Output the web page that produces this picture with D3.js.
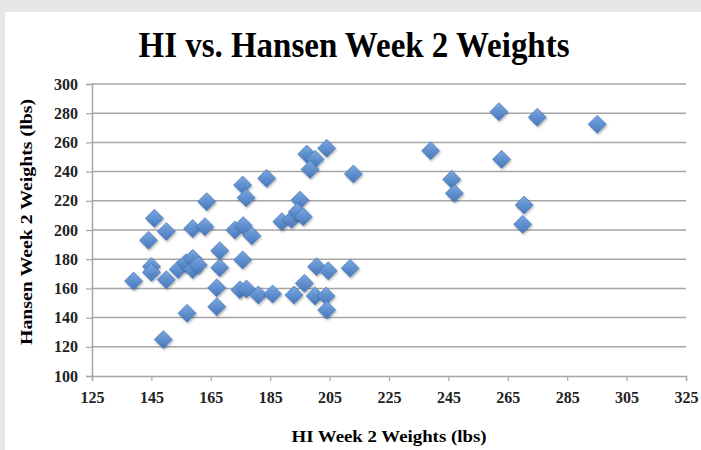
<!DOCTYPE html>
<html>
<head>
<meta charset="utf-8">
<script src="https://cdn.jsdelivr.net/npm/d3@7"></script>
<style>
  html, body { margin: 0; padding: 0; background: #e6e7e9; }
  body { padding: 12px 0 0 5px; width: 696px; height: 438px; }
  #chart { width: 696px; height: 438px; background: #fff; }
  svg { display: block; }
</style>
</head>
<body>
<div id="chart"></div>
<script>
// HI vs. Hansen week 2 weights (lbs)
const hiWeights = [
  139, 144, 146, 145, 145, 150, 150, 149, 154, 157,
  156.6, 158.9, 158.9, 160.8, 158.9, 163, 163.6, 168, 168, 167,
  167, 173.1, 175.9, 178.8, 175.7, 176.9, 183.8, 175.7, 174.8, 177,
  181, 185.8, 188.9, 192.2, 195, 194.1, 196.1, 193, 196.5, 197.3,
  200.1, 198.4, 204, 213, 200.6, 204.5, 211.9, 200.1, 203.8, 204,
  262, 274.9, 295.1, 239, 262.9, 246.1, 247, 270.5, 270
];
const hansenWeights = [
  165, 193, 208, 175, 171, 199, 166, 125, 173, 143,
  177.6, 180.6, 173, 176, 201, 202.3, 219.4, 185.8, 174.2, 160.5,
  147.5, 200, 203, 196, 230.8, 222.1, 235.4, 179.5, 159, 159.6,
  155.5, 156.2, 205.7, 207.3, 220.5, 212.5, 209.1, 155.5, 163.5, 252,
  248.4, 241.5, 256, 238.4, 174.9, 172.1, 173.8, 154.8, 154.8, 145.2,
  281, 277.2, 272.4, 254.3, 248.4, 234.7, 225.1, 217.1, 203.9
];
const xTicks = [125, 145, 165, 185, 205, 225, 245, 265, 285, 305, 325];
const yTicks = [100, 120, 140, 160, 180, 200, 220, 240, 260, 280, 300];

const data = hiWeights.map((d, i) => ({ x: d, y: hansenWeights[i] }));

const width = 696, height = 438;
const margin = { top: 72, right: 15, bottom: 74, left: 87 };
const innerWidth = width - margin.left - margin.right;
const innerHeight = height - margin.top - margin.bottom;
const serif = '"Liberation Serif", "DejaVu Serif", serif';

const svg = d3.select('#chart')
  .append('svg')
  .attr('width', width)
  .attr('height', height);

const defs = svg.append('defs');
const grad = defs.append('linearGradient')
  .attr('id', 'dia')
  .attr('x1', 0).attr('y1', 0).attr('x2', 0).attr('y2', 1);
grad.append('stop').attr('offset', '0%').attr('stop-color', '#7aa8e2');
grad.append('stop').attr('offset', '100%').attr('stop-color', '#4677bb');

const shadow = defs.append('filter').attr('id', 'shadow')
  .attr('x', '-50%').attr('y', '-50%').attr('width', '200%').attr('height', '200%');
shadow.append('feDropShadow')
  .attr('dx', 1).attr('dy', 1.5).attr('stdDeviation', 1)
  .attr('flood-color', '#000').attr('flood-opacity', 0.3);

const g = svg.append('g')
  .attr('transform', `translate(${margin.left},${margin.top})`);

// Scales
const xScale = d3.scaleLinear().domain([125, 325]).range([0, innerWidth]);
const yScale = d3.scaleLinear().domain([100, 300]).range([innerHeight, 0]);

// Gridlines
g.selectAll('.grid')
  .data(yTicks.slice(1))
  .enter()
  .append('line')
  .attr('class', 'grid')
  .attr('x1', 0)
  .attr('x2', innerWidth)
  .attr('y1', d => yScale(d))
  .attr('y2', d => yScale(d))
  .attr('stroke', '#a6a6a6')
  .attr('stroke-width', 1.5);

// Axes
const xAxis = d3.axisBottom(xScale).tickValues(xTicks).tickSize(5).tickPadding(8);
const yAxis = d3.axisLeft(yScale).tickValues(yTicks).tickSize(6).tickPadding(8);

const gx = g.append('g')
  .attr('transform', `translate(0,${innerHeight})`)
  .call(xAxis);
const gy = g.append('g').call(yAxis);

[gx, gy].forEach(ax => {
  ax.select('.domain').attr('stroke', '#a6a6a6').attr('stroke-width', 1.5);
  ax.selectAll('.tick line').attr('stroke', '#a6a6a6').attr('stroke-width', 1.2);
  ax.selectAll('.tick text')
    .attr('fill', '#222')
    .style('font-family', serif)
    .style('font-size', '16px')
    .style('font-weight', 'bold');
});
gx.selectAll('.tick text').attr('dy', '0.9em');

// Points
const s = 9;
g.selectAll('.point')
  .data(data)
  .enter()
  .append('path')
  .attr('class', 'point')
  .attr('d', `M0,${-s}L${s},0L0,${s}L${-s},0Z`)
  .attr('transform', d => `translate(${xScale(d.x)},${yScale(d.y)})`)
  .attr('fill', 'url(#dia)')
  .attr('stroke', '#3f6faf')
  .attr('stroke-width', 0.6)
  .attr('filter', 'url(#shadow)');

// Title
svg.append('text')
  .attr('x', 349)
  .attr('y', 45)
  .attr('text-anchor', 'middle')
  .attr('textLength', 431)
  .attr('lengthAdjust', 'spacingAndGlyphs')
  .style('font-family', serif)
  .style('font-size', '36px')
  .style('font-weight', 'bold')
  .attr('fill', '#000')
  .text('HI vs. Hansen Week 2 Weights');

// Axis titles
svg.append('text')
  .attr('x', margin.left + innerWidth / 2)
  .attr('y', 430)
  .attr('text-anchor', 'middle')
  .attr('textLength', 195)
  .attr('lengthAdjust', 'spacingAndGlyphs')
  .style('font-family', serif)
  .style('font-size', '16px')
  .style('font-weight', 'bold')
  .text('HI Week 2 Weights (lbs)');

svg.append('text')
  .attr('transform', 'rotate(-90)')
  .attr('x', -(margin.top + innerHeight / 2) + 8)
  .attr('y', 27)
  .attr('text-anchor', 'middle')
  .attr('textLength', 246)
  .attr('lengthAdjust', 'spacingAndGlyphs')
  .style('font-family', serif)
  .style('font-size', '16px')
  .style('font-weight', 'bold')
  .text('Hansen Week 2 Weights (lbs)');
</script>
</body>
</html>
